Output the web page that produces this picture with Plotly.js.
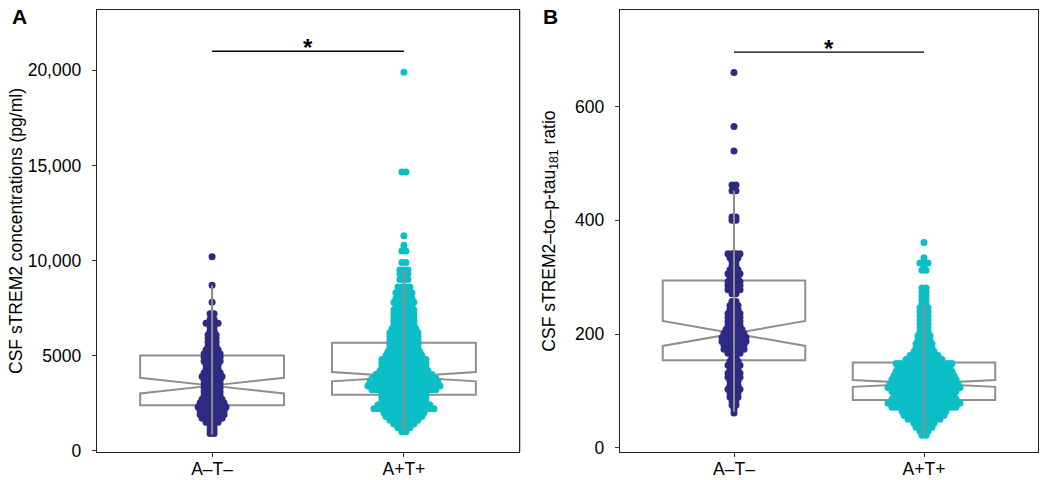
<!DOCTYPE html>
<html>
<head>
<meta charset="utf-8">
<script src="https://cdn.plot.ly/plotly-3.0.1.min.js"></script>
<style>html,body{margin:0;padding:0;background:#fff;}#chart{width:1050px;height:480px;}</style>
</head>
<body>
<div id="chart"></div>
<script>
// ---------- data ----------
const categories = ['A\u2013T\u2013', 'A+T+'];

// Panel A: CSF sTREM2 (pg/ml) – swarm rows: level and number of dots in the row
const aNegLevels = [900,1100,1300,1500,1700,1900,2100,2300,2500,2700,2900,3100,3300,3500,3700,3900,4100,4300,4500,4700,4900,5100,5300,5500,5700,5900,6100,6300,6500,6700,6900,7200,7800,8700,10200];
const aNegCounts = [2,2,2,4,6,7,7,8,7,6,5,5,5,5,5,6,5,4,4,5,5,5,4,3,3,3,3,2,2,4,2,2,1,1,1];

const aPosLevels = [1000,1200,1400,1600,1800,2000,2200,2400,2600,2800,3000,3200,3400,3600,3800,4000,4200,4400,4600,4800,5000,5200,5400,5600,5800,6000,6200,6400,6600,6800,7000,7200,7400,7600,7800,8000,8300,8600,9000,9300,9500,9900,10500,10800,11300,14650,19900];
const aPosCounts = [2,4,6,8,10,11,16,14,12,12,12,17,19,18,17,15,13,12,12,12,10,9,8,8,8,8,8,7,6,6,6,6,6,5,6,5,5,4,3,3,3,2,2,1,1,2,1];

// Panel B: CSF sTREM2-to-p-tau181 ratio
const bNegLevels = [61,68,75,82,89,96,103,110,117,124,131,138,145,152,159,166,173,180,187,194,201,208,215,222,229,236,243,250,257,271,278,285,292,299,306,313,320,327,334,341,400,406,452,462,522,565,660];
const bNegCounts = [1,1,2,2,3,3,4,3,3,4,4,3,4,3,2,4,6,6,7,7,6,5,4,4,4,4,3,3,2,2,4,4,4,3,4,3,2,2,3,4,2,2,2,2,1,1,1];

const bPosLevels = [22,29,36,43,50,57,64,71,78,85,92,99,106,113,120,127,134,141,148,155,162,169,176,183,190,197,204,211,218,225,232,239,246,253,260,267,274,281,312,320,325,334,361];
const bPosCounts = [2,3,5,6,9,11,12,17,19,17,16,17,19,18,17,16,15,14,15,10,8,6,5,5,4,4,3,3,3,3,3,3,3,2,2,2,2,2,2,1,3,1,1];

// Box statistics [A–T–, A+T+]
const boxA_q1 = [2390, 2945], boxA_med = [3420, 3890], boxA_q3 = [5000, 5680];
const boxA_lo = [850, 1050], boxA_hi = [8700, 9500], boxA_notch = [410, 245];
const boxB_q1 = [154, 84], boxB_med = [201, 113], boxB_q3 = [294, 150];
const boxB_lo = [63, 22], boxB_hi = [452, 250], boxB_notch = [22, 6];

// significance bars
const sigA = 21000, sigB = 696;

// tick labels
const yTicksA = [0, 5000, 10000, 15000, 20000];
const yTickTextA = ['0', '5000', '10,000', '15,000', '20,000'];
const yTicksB = [0, 200, 400, 600];
const yTickTextB = ['0', '200', '400', '600'];

// ---------- layout geometry ----------
const W = 1050, H = 480;
const domA = [97 / W, 519 / W], domB = [620 / W, 1038 / W];
const domY = [1 - 452 / H, 1 - 10 / H];
const xRange = [0.4, 2.6];
const colNeg = '#2E2A84', colPos = '#0CBEC6', boxCol = '#8E8E8E';

function swarm(levels, counts, xc, dom) {
  const pxPerUnit = (dom[1] - dom[0]) * W / (xRange[1] - xRange[0]);
  const step = 4 / pxPerUnit;
  const xs = [], ys = [];
  levels.forEach((lv, i) => {
    const n = counts[i];
    for (let k = 0; k < n; k++) {
      xs.push(xc + (k - (n - 1) / 2) * step);
      ys.push(lv);
    }
  });
  return {xs, ys};
}

const traces = [];
function addPanel(xa, ya, dom, negL, negC, posL, posC, lo, hi) {
  const sN = swarm(negL, negC, 1, dom), sP = swarm(posL, posC, 2, dom);
  traces.push({type: 'scatter', mode: 'markers', x: sN.xs, y: sN.ys, xaxis: xa, yaxis: ya,
    marker: {color: colNeg, size: 7, line: {width: 0}}, hoverinfo: 'y', showlegend: false});
  traces.push({type: 'scatter', mode: 'markers', x: sP.xs, y: sP.ys, xaxis: xa, yaxis: ya,
    marker: {color: colPos, size: 7, line: {width: 0}}, hoverinfo: 'y', showlegend: false});
  [0, 1].forEach(i => {
    traces.push({type: 'scatter', mode: 'lines', x: [i + 1, i + 1], y: [lo[i], hi[i]], xaxis: xa, yaxis: ya,
      line: {color: boxCol, width: 2}, hoverinfo: 'skip', showlegend: false});
  });
}
addPanel('x', 'y', domA, aNegLevels, aNegCounts, aPosLevels, aPosCounts, boxA_lo, boxA_hi);
addPanel('x2', 'y2', domB, bNegLevels, bNegCounts, bPosLevels, bPosCounts, boxB_lo, boxB_hi);

function addBox(xa, ya, q1, med, q3, lo, hi, notch) {
  traces.push({type: 'box', x: [1, 2], q1: q1, median: med, q3: q3, lowerfence: lo, upperfence: hi,
    notchspan: notch, notched: true, notchwidth: 0.5, width: 0.75, whiskerwidth: 0,
    boxpoints: false, fillcolor: 'rgba(0,0,0,0)', line: {color: boxCol, width: 2},
    xaxis: xa, yaxis: ya, showlegend: false, hoverinfo: 'skip'});
}
addBox('x', 'y', boxA_q1, boxA_med, boxA_q3, boxA_lo, boxA_hi, boxA_notch);
addBox('x2', 'y2', boxB_q1, boxB_med, boxB_q3, boxB_lo, boxB_hi, boxB_notch);

const fam = 'Liberation Sans, Arial, sans-serif';
const font = {family: fam, size: 17.5, color: '#000'};
function xAxis(dom, anchor) {
  return {domain: dom, anchor: anchor, range: xRange, tickvals: [1, 2], ticktext: categories,
    showline: true, mirror: true, linecolor: '#222', linewidth: 1.3, ticks: 'outside', ticklen: 4,
    tickcolor: '#333', showgrid: false, zeroline: false, tickfont: font, ticklabelstandoff: -3, fixedrange: true};
}
function yAxis(range, anchor, tv, tt, title, standoff) {
  return {domain: domY, anchor: anchor, range: range, tickvals: tv, ticktext: tt,
    showline: true, mirror: true, linecolor: '#222', linewidth: 1.3, ticks: 'outside', ticklen: 4,
    tickcolor: '#333', showgrid: false, zeroline: false, tickfont: font, ticklabelstandoff: 7,
    title: {text: title, font: font, standoff: standoff}, fixedrange: true};
}

const layout = {
  width: W, height: H, margin: {l: 0, r: 0, t: 0, b: 0},
  paper_bgcolor: '#fff', plot_bgcolor: '#fff', showlegend: false,
  xaxis: xAxis(domA, 'y'), yaxis: yAxis([-70, 23170], 'x', yTicksA, yTickTextA, 'CSF sTREM2 concentrations (pg/ml)', 0),
  xaxis2: xAxis(domB, 'y2'), yaxis2: yAxis([-7.6, 770], 'x2', yTicksB, yTickTextB, 'CSF sTREM2\u2013to\u2013p-tau<sub>181</sub> ratio', 15),
  shapes: [
    {type: 'line', xref: 'x', yref: 'y', x0: 1, x1: 2, y0: sigA, y1: sigA, line: {color: '#000', width: 1.3}},
    {type: 'line', xref: 'x2', yref: 'y2', x0: 1, x1: 2, y0: sigB, y1: sigB, line: {color: '#000', width: 1.3}},
    {type: 'line', xref: 'paper', yref: 'paper', x0: 520.5 / W, x1: 520.5 / W, y0: 1 - 452 / H, y1: 1 - 10 / H, line: {color: '#c8c8c8', width: 1}}
  ],
  annotations: [
    {xref: 'x', yref: 'y', x: 1.5, y: sigA, text: '<b>*</b>', showarrow: false, yanchor: 'bottom', font: {family: fam, size: 24, color: '#000'}, yshift: -12},
    {xref: 'x2', yref: 'y2', x: 1.5, y: sigB, text: '<b>*</b>', showarrow: false, yanchor: 'bottom', font: {family: fam, size: 24, color: '#000'}, yshift: -12},
    {xref: 'paper', yref: 'paper', x: 10 / W, y: 1 - 3 / H, xanchor: 'left', yanchor: 'top', text: '<b>A</b>', showarrow: false, font: {family: fam, size: 21, color: '#000'}},
    {xref: 'paper', yref: 'paper', x: 541 / W, y: 1 - 3 / H, xanchor: 'left', yanchor: 'top', text: '<b>B</b>', showarrow: false, font: {family: fam, size: 21, color: '#000'}}
  ]
};

Plotly.newPlot('chart', traces, layout, {staticPlot: true, displayModeBar: false});
</script>
</body>
</html>
